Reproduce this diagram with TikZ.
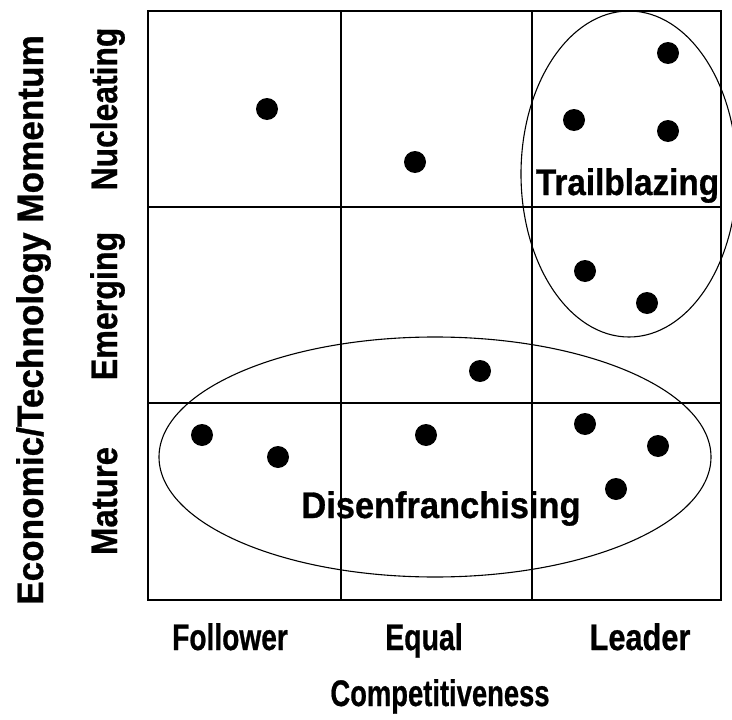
\documentclass[tikz,border=0pt]{standalone}
\usepackage{fontspec}
\usepackage{graphicx}
\setmainfont{Liberation Sans}[BoldFeatures={FakeBold=0.8}]
\tikzset{
  grid line/.style={line width=1.4pt, black},
  group/.style={line width=1.1pt, black},
  pt/.style={circle, fill=black, inner sep=0pt, minimum size=22pt},
  lbl/.style={inner sep=0pt, anchor=base, font=\fontsize{37}{37}\selectfont\bfseries},
  vlbl/.style={lbl, rotate=90}
}
\newcommand{\sx}[2]{\scalebox{#1}[1]{#2}}
\begin{document}
\begin{tikzpicture}[x=1pt, y=-1pt]
\useasboundingbox (0,0) rectangle (732,720);
\begin{scope}
\clip (0,0) rectangle (732,720);
% grid
\draw[grid line] (148,11) rectangle (721,600);
\draw[grid line] (341,11) -- (341,600);
\draw[grid line] (532,11) -- (532,600);
\draw[grid line] (148,207) -- (721,207);
\draw[grid line] (148,403) -- (721,403);
% ellipses
\draw[group] (629,174) ellipse [x radius=108, y radius=163];
\draw[group] (435,457) ellipse [x radius=276, y radius=120];
\end{scope}
% dots
\node[pt] (d1) at (267,109) {};
\node[pt] (d2) at (415,162) {};
\node[pt] (d3) at (668,53) {};
\node[pt] (d4) at (574,120) {};
\node[pt] (d5) at (668,131) {};
\node[pt] (d6) at (585,271) {};
\node[pt] (d7) at (647,303) {};
\node[pt] (d8) at (480,371) {};
\node[pt] (d9) at (202,435) {};
\node[pt] (d10) at (278,457) {};
\node[pt] (d11) at (426,435) {};
\node[pt] (d12) at (585,424) {};
\node[pt] (d13) at (658,446) {};
\node[pt] (d14) at (616,489) {};
% group labels
\node[lbl] (trail) at (627.5,195) {\sx{0.9}{Trailblazing}};
\node[lbl] (disen) at (441,518) {\sx{0.93}{Disenfranchising}};
% x labels
\node[lbl] (fol) at (230,650) {\sx{0.76}{Follower}};
\node[lbl] (eq) at (424,650) {\sx{0.77}{Equal}};
\node[lbl] (lead) at (640,650) {\sx{0.83}{Leader}};
\node[lbl] (comp) at (440,706) {\sx{0.74}{Competitiveness}};
% y labels
\node[vlbl] (econ) at (43,320) {\sx{0.95}{Economic/Technology Momentum}};
\node[vlbl] (nuc) at (117,109) {\sx{0.86}{Nucleating}};
\node[vlbl] (emer) at (117,306) {\sx{0.87}{Emerging}};
\node[vlbl] (mat) at (117,501) {\sx{0.89}{Mature}};
\end{tikzpicture}
\end{document}
